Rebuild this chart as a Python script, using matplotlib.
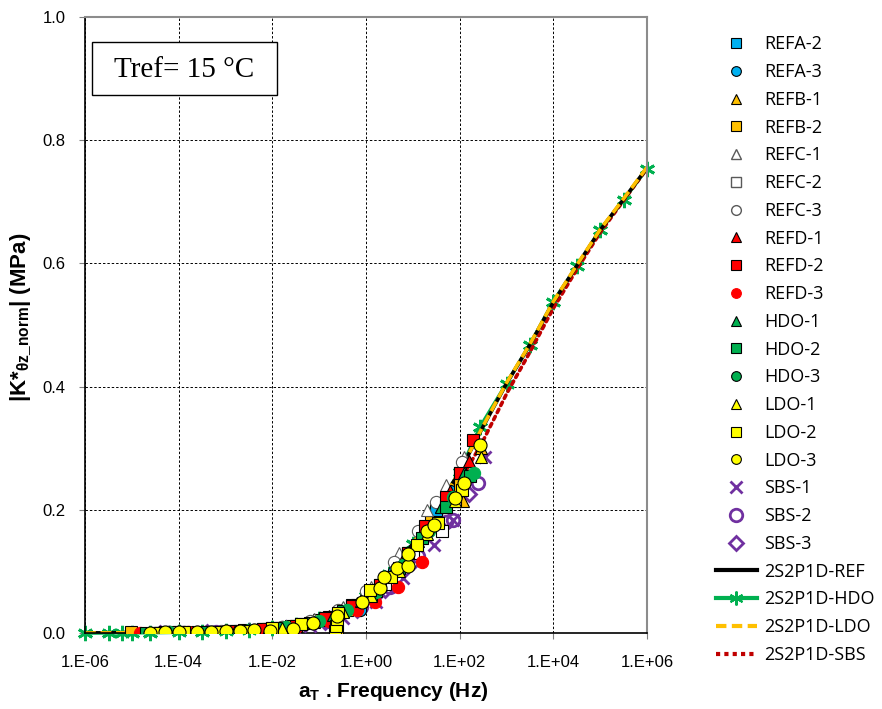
import matplotlib
matplotlib.use("Agg")
import matplotlib.pyplot as plt
from matplotlib.patches import Rectangle
from matplotlib.lines import Line2D

plt.rcParams['font.family'] = ['Liberation Sans', 'DejaVu Sans']
plt.rcParams['mathtext.fontset'] = 'custom'
plt.rcParams['mathtext.rm'] = 'Liberation Sans:bold'
plt.rcParams['mathtext.it'] = 'Liberation Sans:bold'
plt.rcParams['mathtext.default'] = 'rm'

# ---------------- data ----------------
refa2_f = [4.0e-5, 1.3e-4, 5.0e-4, 2.0e-3, 7.9e-3, 3.2e-2, 0.13, 0.5, 2.0, 7.9, 32.0, 100.0]
refa2_v = [0.0008, 0.0013, 0.0021, 0.0035, 0.0062, 0.012, 0.025, 0.045, 0.078, 0.13, 0.20, 0.26]
refa3_f = [6.3e-5, 2.5e-4, 1.0e-3, 4.0e-3, 1.6e-2, 6.3e-2, 0.25, 0.74, 1.0, 4.0, 16.0, 63.0]
refa3_v = [0.0010, 0.0016, 0.0028, 0.0050, 0.0090, 0.018, 0.033, 0.037, 0.058, 0.10, 0.16, 0.23]
refb1_f = [3.2e-5, 1.6e-4, 6.3e-4, 2.5e-3, 1.0e-2, 4.0e-2, 0.16, 0.63, 2.5, 10.0, 40.0, 117.0, 282.0]
refb1_v = [0.0007, 0.0013, 0.0022, 0.0040, 0.0070, 0.014, 0.027, 0.048, 0.085, 0.14, 0.205, 0.215, 0.30]
refb2_f = [9.5e-6, 1.0e-4, 4.0e-4, 1.6e-3, 6.3e-3, 2.5e-2, 0.10, 0.24, 0.40, 1.6, 6.3, 25.0, 100.0]
refb2_v = [0.0010, 0.0012, 0.0020, 0.0033, 0.0060, 0.011, 0.021, 0.003, 0.038, 0.068, 0.12, 0.18, 0.24]
refc1_f = [5.0e-5, 3.2e-4, 1.3e-3, 5.0e-3, 2.0e-2, 7.9e-2, 0.32, 1.26, 5.0, 20.0, 50.0, 126.0]
refc1_v = [0.0010, 0.0018, 0.0030, 0.0058, 0.011, 0.022, 0.042, 0.075, 0.13, 0.20, 0.24, 0.285]
refc2_f = [7.9e-5, 5.0e-4, 2.5e-3, 1.0e-2, 4.0e-2, 0.16, 0.63, 2.5, 10.0, 42.0, 79.0]
refc2_v = [0.0011, 0.0021, 0.0040, 0.0075, 0.014, 0.026, 0.045, 0.080, 0.13, 0.165, 0.215]
refc3_f = [1.3e-4, 7.9e-4, 4.0e-3, 1.6e-2, 6.3e-2, 0.25, 1.0, 4.0, 12.6, 32.0, 112.0]
refc3_v = [0.0013, 0.0027, 0.0052, 0.0095, 0.020, 0.038, 0.068, 0.115, 0.165, 0.213, 0.278]
refd1_f = [2.5e-5, 2.0e-4, 1.0e-3, 5.0e-3, 2.5e-2, 0.10, 0.40, 1.6, 6.3, 20.0, 63.0, 158.0]
refd1_v = [0.0006, 0.0016, 0.0028, 0.0055, 0.011, 0.022, 0.040, 0.073, 0.12, 0.17, 0.23, 0.28]
refd2_f = [3.2e-5, 2.5e-4, 1.3e-3, 6.3e-3, 3.2e-2, 0.13, 0.50, 2.0, 7.9, 18.6, 50.0, 100.0, 190.0]
refd2_v = [0.0008, 0.0017, 0.0030, 0.0060, 0.012, 0.024, 0.044, 0.078, 0.13, 0.173, 0.22, 0.26, 0.313]
refd3_f = [1.5e-5, 1.6e-4, 1.0e-3, 6.3e-3, 3.2e-2, 0.16, 0.63, 1.55, 4.8, 15.5]
refd3_v = [0.0008, 0.0012, 0.0026, 0.0050, 0.0090, 0.020, 0.038, 0.051, 0.075, 0.116]
hdo1_f = [4.0e-5, 2.5e-4, 1.6e-3, 7.9e-3, 4.0e-2, 0.20, 0.79, 3.2, 12.6, 40.0, 126.0]
hdo1_v = [0.0008, 0.0016, 0.0033, 0.0065, 0.014, 0.030, 0.052, 0.092, 0.15, 0.205, 0.26]
hdo2_f = [2.0e-5, 5.0e-5, 4.0e-4, 2.5e-3, 1.3e-2, 6.3e-2, 0.32, 1.26, 5.0, 15.8, 50.0, 166.0]
hdo2_v = [0.0008, 0.0009, 0.0020, 0.0042, 0.0080, 0.017, 0.035, 0.062, 0.105, 0.155, 0.205, 0.255]
hdo3_f = [6.3e-5, 5.0e-4, 3.2e-3, 2.0e-2, 0.10, 0.40, 1.6, 6.3, 22.0, 71.0, 200.0]
hdo3_v = [0.0010, 0.0021, 0.0045, 0.0095, 0.020, 0.038, 0.066, 0.110, 0.165, 0.22, 0.26]
ldo1_f = [6.3e-5, 5.0e-4, 3.2e-3, 1.6e-2, 7.9e-2, 0.32, 1.26, 5.0, 20.0, 79.0, 282.0]
ldo1_v = [0.0009, 0.0020, 0.0043, 0.0085, 0.018, 0.034, 0.060, 0.100, 0.16, 0.215, 0.285]
ldo2_f = [3.2e-5, 4.0e-5, 1.3e-4, 6.3e-4, 2.5e-3, 1.0e-2, 4.0e-2, 0.22, 0.23, 0.24, 0.25, 1.23, 3.5, 12.0,
          35.0, 110.0]
ldo2_v = [0.0008, 0.0008, 0.0012, 0.0022, 0.0040, 0.0075, 0.014, 0.004, 0.012, 0.022, 0.032, 0.070, 0.091,
          0.143, 0.178, 0.232]
ldo3_f = [2.5e-5, 5.0e-5, 1.0e-4, 2.5e-4, 5.0e-4, 1.0e-3, 2.0e-3, 4.0e-3, 8.9e-3, 2.8e-2, 7.4e-2,
          0.24, 0.81, 2.0, 2.4, 4.5, 7.9, 8.0, 20.0, 28.0, 79.0, 126.0, 270.0]
ldo3_v = [0.0006, 0.0009, 0.0012, 0.0017, 0.0021, 0.0026, 0.0033, 0.0042, 0.0040, 0.0060, 0.016,
          0.028, 0.051, 0.073, 0.091, 0.105, 0.108, 0.129, 0.165, 0.175, 0.219, 0.243, 0.305]
sbs1_f = [1.0e-4, 1.0e-3, 1.0e-2, 6.3e-2, 0.32, 1.6, 6.3, 28.0, 72.0, 347.0]
sbs1_v = [0.0008, 0.0018, 0.0050, 0.012, 0.025, 0.050, 0.090, 0.143, 0.183, 0.286]
sbs2_f = [6.3e-5, 6.3e-4, 5.0e-3, 3.2e-2, 0.16, 0.79, 3.2, 12.6, 50.0, 72.0, 245.0]
sbs2_v = [0.0008, 0.0017, 0.0040, 0.0090, 0.020, 0.042, 0.075, 0.125, 0.18, 0.183, 0.243]
sbs3_f = [4.0e-5, 4.0e-4, 3.2e-3, 2.0e-2, 0.13, 0.63, 2.5, 10.0, 40.0, 158.0]
sbs3_v = [0.0007, 0.0015, 0.0035, 0.0075, 0.018, 0.038, 0.070, 0.115, 0.17, 0.225]

# 2S2P1D model curves
model_f = [1e-6, 3.16e-6, 1e-5, 3.16e-5, 1e-4, 3.16e-4, 1e-3, 3.16e-3, 1e-2, 3.16e-2, 0.1, 0.316, 1.0,
           3.16, 10.0, 31.6, 100.0, 316.0, 1e3, 3.16e3, 1e4, 3.16e4, 1e5, 3.16e5, 1e6]
ref_v = [0.0, 0.0002, 0.0004, 0.0007, 0.0012, 0.0018, 0.0028, 0.0045, 0.0075, 0.013, 0.022, 0.037, 0.060,
         0.095, 0.145, 0.200, 0.262, 0.335, 0.405, 0.468, 0.537, 0.596, 0.654, 0.704, 0.755]
ldo_v = [0.0, 0.0002, 0.0004, 0.0007, 0.0012, 0.0018, 0.0028, 0.0045, 0.0075, 0.013, 0.022, 0.037, 0.060,
         0.095, 0.145, 0.200, 0.262, 0.336, 0.406, 0.469, 0.538, 0.597, 0.655, 0.705, 0.756]
sbs_v = [0.0, 0.0002, 0.0004, 0.0007, 0.0011, 0.0017, 0.0026, 0.0042, 0.0070, 0.012, 0.020, 0.034, 0.055,
         0.088, 0.135, 0.185, 0.245, 0.312, 0.388, 0.456, 0.527, 0.590, 0.650, 0.702, 0.754]
hdo_mf = [1e-6, 3.3e-6, 6.3e-6, 1e-5, 2.5e-5, 1e-4, 3.16e-4, 1e-3, 3.16e-3, 1e-2, 3.16e-2, 0.1, 0.316, 1.0,
          3.16, 10.0, 31.6, 100.0, 276.0, 1e3, 3.16e3, 1e4, 3.16e4, 1e5, 3.16e5, 1e6]
hdo_mv = [0.0, 0.0002, 0.0003, 0.0004, 0.0006, 0.0012, 0.0018, 0.0028, 0.0045, 0.0075, 0.013, 0.022, 0.037,
          0.060, 0.095, 0.145, 0.200, 0.262, 0.335, 0.405, 0.468, 0.538, 0.595, 0.654, 0.703, 0.754]

x_ticks = [1e-6, 1e-4, 1e-2, 1e0, 1e2, 1e4, 1e6]
x_ticklabels = ['1.E-06', '1.E-04', '1.E-02', '1.E+00', '1.E+02', '1.E+04', '1.E+06']
y_ticks = [0.0, 0.2, 0.4, 0.6, 0.8, 1.0]

# ---------------- styles ----------------
BLUE = '#00B0F0'; ORANGE = '#FFC000'; RED = '#FF0000'; GREEN = '#00B050'
YEL = '#FFFF00'; PURP = '#7030A0'; GRAYE = '#595959'

fig = plt.figure(figsize=(8.82, 7.09), dpi=100)
ax = fig.add_axes([85/882, 1-633/709, (647-85)/882, (633-17)/709])

ms = 8.8
def sc(f, v, mk, fc, ec, size=ms, lw=0.8, z=3):
    ax.plot(f, v, linestyle='none', marker=mk, markerfacecolor=fc, markeredgecolor=ec,
            markersize=size, markeredgewidth=lw, zorder=z)

# model lines (below data)
ax.plot(hdo_mf, hdo_mv, color=GREEN, lw=2.6, marker=(6, 2, 0), markersize=11,
        markeredgewidth=2.0, markeredgecolor=GREEN, zorder=2, clip_on=False)
ax.plot(model_f, ref_v, color='black', lw=2.6, zorder=2.1)
ax.plot(model_f, ldo_v, color=ORANGE, lw=2.6, dashes=(3.0, 1.3), zorder=2.2)
ax.plot(model_f, sbs_v, color='#C00000', lw=2.6, dashes=(1.0, 1.2), dash_capstyle='round', zorder=2.05)

# data
sc(sbs1_f, sbs1_v, 'x', 'none', PURP, size=8, lw=2.0)
sc(sbs2_f, sbs2_v, 'o', 'none', PURP, size=9, lw=2.0)
sc(sbs3_f, sbs3_v, 'D', 'none', PURP, size=7, lw=2.0)
sc(refa2_f, refa2_v, 's', BLUE, 'black')
sc(refa3_f, refa3_v, 'o', BLUE, 'black')
sc(refb1_f, refb1_v, '^', ORANGE, 'black')
sc(refb2_f, refb2_v, 's', ORANGE, 'black')
sc(refc1_f, refc1_v, '^', 'white', GRAYE)
sc(refc2_f, refc2_v, 's', 'white', 'black')
sc(refc3_f, refc3_v, 'o', 'white', GRAYE)
sc(refd1_f, refd1_v, '^', RED, 'black')
sc(refd2_f, refd2_v, 's', RED, 'black')
sc(refd3_f, refd3_v, 'o', RED, RED)
sc(hdo1_f, hdo1_v, '^', GREEN, 'black')
sc(hdo2_f, hdo2_v, 's', GREEN, 'black')
sc(hdo3_f, hdo3_v, 'o', GREEN, GREEN)
sc(ldo1_f, ldo1_v, '^', YEL, 'black')
sc(ldo2_f, ldo2_v, 's', YEL, 'black')
sc(ldo3_f, ldo3_v, 'o', YEL, 'black', size=9.4)

ax.set_xscale('log')
ax.set_xlim(1e-6, 1e6)
ax.set_ylim(0, 1.0)
ax.set_xticks(x_ticks)
ax.set_xticklabels(x_ticklabels)
ax.minorticks_off()
ax.set_yticks(y_ticks)
ax.set_yticklabels(['%.1f' % t for t in y_ticks])
ax.tick_params(labelsize=12, direction='out', length=4, width=0.8, color='#808080')
ax.tick_params(axis='x', pad=12)
ax.tick_params(axis='y', pad=10)
ax.grid(True, color='black', linestyle=(0, (2.5, 2.0)), linewidth=0.7)
ax.set_axisbelow(True)
for s in ['top', 'right']:
    ax.spines[s].set_color('#8c8c8c'); ax.spines[s].set_linewidth(1.5)
for s in ['left', 'bottom']:
    ax.spines[s].set_color('black'); ax.spines[s].set_linewidth(1.2)

ax.set_xlabel(r'a$_{T}$ . Frequency (Hz)', fontsize=15, fontweight='bold')
ax.xaxis.set_label_coords(0.548, -0.076)
ax.set_ylabel(r'|K*$_{\theta z\_norm}$| (MPa)', fontsize=16, fontweight='bold')
ax.yaxis.set_label_coords(-0.09, 0.513)

# Tref box
ax.add_patch(Rectangle((0.0125, 0.873), 0.33, 0.086, transform=ax.transAxes, facecolor='white',
                       edgecolor='black', linewidth=1.0, zorder=5))
ax.text(0.177, 0.914, 'Tref= 15 °C', transform=ax.transAxes, ha='center', va='center',
        fontsize=21, family='Liberation Serif', zorder=6)

# legend
handles = [
    Line2D([], [], ls='none', marker='s', mfc=BLUE, mec='black', ms=7, mew=0.8),
    Line2D([], [], ls='none', marker='o', mfc=BLUE, mec='black', ms=7, mew=0.8),
    Line2D([], [], ls='none', marker='^', mfc=ORANGE, mec='black', ms=7, mew=0.8),
    Line2D([], [], ls='none', marker='s', mfc=ORANGE, mec='black', ms=7, mew=0.8),
    Line2D([], [], ls='none', marker='^', mfc='white', mec=GRAYE, ms=7, mew=1.0),
    Line2D([], [], ls='none', marker='s', mfc='white', mec=GRAYE, ms=7, mew=1.0),
    Line2D([], [], ls='none', marker='o', mfc='white', mec=GRAYE, ms=7, mew=1.0),
    Line2D([], [], ls='none', marker='^', mfc=RED, mec='black', ms=7, mew=0.8),
    Line2D([], [], ls='none', marker='s', mfc=RED, mec='black', ms=7, mew=0.8),
    Line2D([], [], ls='none', marker='o', mfc=RED, mec=RED, ms=7, mew=0.8),
    Line2D([], [], ls='none', marker='^', mfc=GREEN, mec='black', ms=7, mew=0.8),
    Line2D([], [], ls='none', marker='s', mfc=GREEN, mec='black', ms=7, mew=0.8),
    Line2D([], [], ls='none', marker='o', mfc=GREEN, mec='black', ms=7, mew=0.8),
    Line2D([], [], ls='none', marker='^', mfc=YEL, mec='black', ms=7, mew=0.8),
    Line2D([], [], ls='none', marker='s', mfc=YEL, mec='black', ms=7, mew=0.8),
    Line2D([], [], ls='none', marker='o', mfc=YEL, mec='black', ms=7, mew=0.8),
    Line2D([], [], ls='none', marker='x', mec=PURP, ms=8, mew=2.0),
    Line2D([], [], ls='none', marker='o', mfc='none', mec=PURP, ms=9, mew=2.0),
    Line2D([], [], ls='none', marker='D', mfc='none', mec=PURP, ms=7, mew=2.0),
    Line2D([], [], color='black', lw=3),
    Line2D([], [], color=GREEN, lw=3, marker=(6, 2, 0), ms=10, mew=1.5, mec=GREEN),
    Line2D([], [], color=ORANGE, lw=3, dashes=(2.5, 1.3)),
    Line2D([], [], color='#C00000', lw=3, dashes=(1.0, 1.0)),
]
labels = ['REFA-2', 'REFA-3', 'REFB-1', 'REFB-2', 'REFC-1', 'REFC-2', 'REFC-3', 'REFD-1', 'REFD-2',
          'REFD-3', 'HDO-1', 'HDO-2', 'HDO-3', 'LDO-1', 'LDO-2', 'LDO-3', 'SBS-1', 'SBS-2', 'SBS-3',
          '2S2P1D-REF', '2S2P1D-HDO', '2S2P1D-LDO', '2S2P1D-SBS']
fig.legend(handles, labels, loc='upper left', bbox_to_anchor=(0.797, 0.968), frameon=False,
           prop={'family': 'Open Sans', 'size': 13}, labelspacing=0.54, handlelength=2.3,
           handletextpad=0.4, borderpad=0.2)

fig.savefig('out.png', dpi=100)
